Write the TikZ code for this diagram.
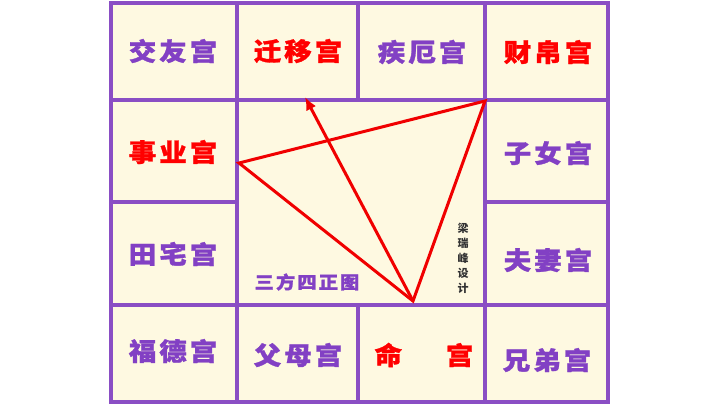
\documentclass[tikz,border=0pt]{standalone}
\usepackage{fontspec}
\usetikzlibrary{arrows.meta}
\newfontfamily\cjk[FakeStretch=1.1,LetterSpace=12,FakeBold=1.2]{Noto Sans CJK SC}
\newfontfamily\cjksmall{Noto Sans CJK SC}
\definecolor{gridpurple}{RGB}{138,78,196}
\definecolor{txtpurple}{RGB}{130,64,196}
\definecolor{cream}{RGB}{254,249,225}
\definecolor{redline}{RGB}{240,0,0}
\begin{document}
\begin{tikzpicture}[x=1pt,y=-1pt,
  gridline/.style={draw=gridpurple,line width=4pt},
  palace/.style={font=\cjk\bfseries\fontsize{25}{25}\selectfont,inner sep=0pt},
  pp/.style={palace,text=txtpurple},
  pr/.style={palace,text=red},
  tri/.style={draw=redline,line width=3pt,line join=miter},
  title/.style={font=\cjk\bfseries\fontsize{17.5}{17.5}\selectfont,text=txtpurple,inner sep=0pt},
  sig/.style={font=\cjksmall\bfseries\fontsize{11}{15}\selectfont,text=black!80,inner sep=0pt,align=center}]
\useasboundingbox (0,0) rectangle (720,405);
\fill[white] (0,0) rectangle (720,405);
% cells
\fill[cream] (111,3) rectangle (608,402);
% grid
\draw[gridline] (111,3) rectangle (608,402);
\draw[gridline] (111,100) -- (608,100);
\draw[gridline] (111,305) -- (608,305);
\draw[gridline] (111,202) -- (237,202);
\draw[gridline] (485,202) -- (608,202);
\draw[gridline] (237,3) -- (237,402);
\draw[gridline] (485,3) -- (485,402);
\draw[gridline] (358,3) -- (358,100);
\draw[gridline] (358,305) -- (358,402);
% labels
\node[pp] (jiaoyou) at (173,51) {交友宫};
\node[pr] (qianyi) at (298,51) {迁移宫};
\node[pp] (jie) at (422,52) {疾厄宫};
\node[pr] (caibo) at (548,52) {财帛宫};
\node[pr] (shiye) at (173,152) {事业宫};
\node[pp] (zinv) at (548,153) {子女宫};
\node[pp] (tianzhai) at (173,254) {田宅宫};
\node[pp] (fuqi) at (548,260) {夫妻宫};
\node[pp] (fude) at (173,351) {福德宫};
\node[pp] (fumu) at (298,355) {父母宫};
\node[pr] (ming) at (424,355) {命\hspace{1.75em}宫};
\node[pp] (xiongdi) at (547,360) {兄弟宫};
\node[title] (sanfang) at (307,282) {三方四正图};
\node[sig] (design) at (463,258) {梁\\瑞\\峰\\设\\计};
% triangle
\coordinate (A) at (239,163);
\coordinate (B) at (485,101);
\coordinate (C) at (413,301);
\coordinate (D) at (305,97);
\draw[tri] (A) -- (B) -- (C) -- cycle;
\draw[tri,-{Latex[length=13pt,width=11pt]}] (C) -- (D);
\end{tikzpicture}
\end{document}
